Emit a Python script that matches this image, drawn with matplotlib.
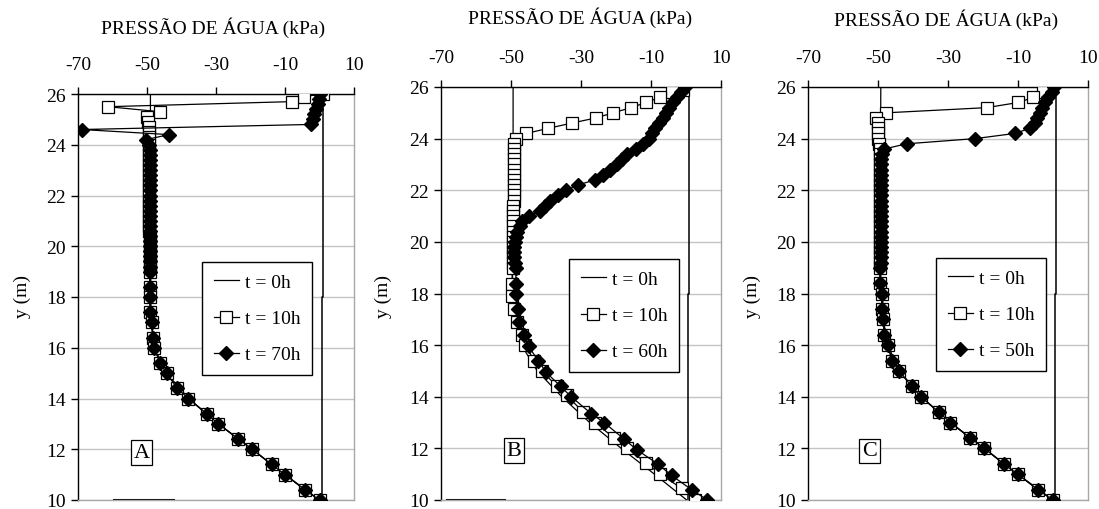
import matplotlib
matplotlib.use('Agg')
import matplotlib.pyplot as plt

plt.rcParams['font.family'] = 'Liberation Serif'
plt.rcParams['axes.unicode_minus'] = False

# node depths (m)
y_col = [24.0, 23.8, 23.6, 23.4, 23.2, 23.0, 22.8, 22.6, 22.4, 22.2, 22.0, 21.8, 21.6,
         21.4, 21.2, 21.0, 20.8, 20.6, 20.4, 20.2, 20.0, 19.8, 19.6, 19.4, 19.2, 19.0]
y_low = [18.4, 18.0, 17.4, 17.0, 16.4, 16.0, 15.4, 15.0, 14.4, 14.0, 13.4, 13.0,
         12.4, 12.0, 11.4, 11.0, 10.4, 10.0]
y_full = [26.0, 25.8, 25.6, 25.4, 25.2, 25.0, 24.8, 24.6, 24.4, 24.2] + y_col

# ---------- panel A ----------
a_t0_y = [26.0, 19.0, 18.4, 18.0, 17.0, 16.0, 15.0, 14.0, 13.0, 12.0, 11.0, 10.0]
a_t0_x = [-49.0, -49.1, -49.1, -49.1, -48.6, -47.9, -44.3, -38.0, -29.3, -19.5, -10.0, 0.0]
a_low_x = [-49.1, -49.1, -49.1, -48.6, -48.4, -47.9, -46.2, -44.3, -41.2, -38.0, -32.7, -29.3,
           -23.5, -19.5, -13.9, -10.0, -4.2, 0.0]
a_t10_y = [26.0, 25.9, 25.7, 25.5, 25.3, 25.1, 24.9, 24.7, 24.5, 24.3] + y_col + y_low
a_t10_x = [1.0, -4.4, -7.9, -61.3, -46.1, -50.1, -49.6, -49.4, -49.3, -49.3,
           -49.3, -49.3, -49.3, -49.3, -49.3, -49.3, -49.3, -49.3, -49.3, -49.3, -49.3, -49.3, -49.3,
           -49.3, -49.3, -49.3, -49.3, -49.3, -49.2, -49.2, -49.2, -49.2, -49.2, -49.2, -49.2, -49.1] + a_low_x
a_t70_y = y_full + y_low
a_t70_x = [0.0, -0.2, -0.5, -0.9, -1.5, -2.0, -2.6, -68.9, -43.6, -50.4,
           -49.3, -49.2, -49.2, -49.2, -49.2, -49.2, -49.2, -49.2, -49.2, -49.2, -49.2, -49.2, -49.2,
           -49.2, -49.2, -49.2, -49.2, -49.2, -49.2, -49.2, -49.2, -49.2, -49.2, -49.2, -49.1, -49.1] + a_low_x

# ---------- panel B ----------
b_t0_y = [26.0, 24.0, 19.0, 18.0, 17.0, 16.0, 15.0, 14.0, 13.0, 12.0, 11.0, 10.0]
b_t0_x = [-49.4, -49.4, -49.6, -49.8, -49.0, -47.0, -42.5, -35.5, -27.5, -18.5, -9.0, 0.2]
b_t10_y = [25.9, 25.8, 25.6, 25.4, 25.2, 25.0, 24.8, 24.6, 24.4, 24.2] + y_col + \
          [18.35, 17.9, 17.4, 16.9, 16.4, 16.0, 15.4, 15.0, 14.4, 14.05, 13.4, 13.0,
           12.4, 12.0, 11.45, 11.0, 10.45, 10.0]
b_t10_x = [-0.8, -4.1, -7.4, -11.4, -15.7, -20.8, -25.8, -32.7, -39.3, -45.7,
           -48.7, -49.1, -49.1, -49.1, -49.1, -49.1, -49.1, -49.1, -49.1, -49.1, -49.1, -49.1, -49.1,
           -49.5, -49.5, -49.5, -49.5, -49.5, -49.5, -49.5, -49.5, -49.5, -49.5, -49.5, -49.5, -49.5,
           -49.6, -49.6, -49.1, -48.4, -46.9, -46.0, -43.3, -41.2, -36.8, -34.1, -29.3, -26.0,
           -20.5, -17.0, -11.4, -7.4, -1.2, 2.6]
b_t60_y = y_full + [18.35, 18.0, 17.4, 16.9, 16.4, 15.95, 15.4, 14.95, 14.4, 14.0, 13.35, 13.0,
                    12.35, 11.95, 11.4, 10.95, 10.4, 10.0]
b_t60_x = [-0.3, -1.5, -2.7, -3.8, -4.9, -5.7, -6.6, -7.8, -8.8, -9.7,
           -10.7, -12.3, -14.4, -16.8, -18.4, -19.8, -21.8, -23.8, -26.0, -31.0, -34.2, -36.5, -38.8,
           -40.2, -41.7, -45.0, -46.8, -47.4, -48.2, -48.7, -49.0, -49.2, -49.2, -49.1, -48.9, -48.6,
           -48.6, -48.6, -47.9, -47.6, -46.3, -45.0, -42.2, -40.0, -35.8, -32.8, -27.1, -23.4,
           -17.6, -14.1, -8.1, -4.1, 1.6, 6.1]

# ---------- panel C ----------
c_t0_y = [26.0, 19.0, 18.4, 18.0, 17.0, 16.0, 15.0, 14.0, 13.0, 12.0, 11.0, 10.0]
c_t0_x = [-49.2, -49.4, -49.4, -48.9, -48.5, -47.2, -43.9, -37.7, -29.3, -19.6, -10.1, 0.0]
c_low_x = [-49.4, -48.9, -49.0, -48.5, -48.2, -47.2, -46.0, -43.9, -40.4, -37.7, -32.6, -29.3,
           -23.6, -19.6, -14.1, -10.1, -4.3, 0.0]
c_t10_y = [26.0, 25.8, 25.6, 25.4, 25.2, 25.0, 24.8, 24.6, 24.4, 24.2] + y_col + y_low
c_t10_x = [-0.4, -2.8, -5.6, -9.9, -19.0, -47.7, -50.6, -49.9, -49.9, -49.9,
           -49.9, -49.6, -49.4, -49.4, -49.4, -49.4, -49.4, -49.4, -49.4, -49.4, -49.4, -49.4, -49.4,
           -49.4, -49.4, -49.4, -49.4, -49.4, -49.4, -49.4, -49.4, -49.4, -49.4, -49.4, -49.4, -49.4] + c_low_x
c_t50_y = y_full + y_low
c_t50_x = [0.3, -0.4, -1.4, -2.4, -3.1, -3.8, -4.5, -5.2, -6.6, -10.9,
           -22.3, -41.8, -48.2, -49.0, -49.1, -49.1, -49.1, -49.1, -49.1, -49.1, -49.1, -49.1, -49.1,
           -49.1, -49.1, -49.1, -49.1, -49.1, -49.2, -49.2, -49.2, -49.2, -49.2, -49.2, -49.2, -49.3] + c_low_x

# right-hand vertical line and base segment
ref_y = [26.0, 18.0, 18.0, 10.0]
a_ref_x = [1.0, 1.0, 0.6, 0.6]
b_ref_x = [0.9, 0.9, 0.7, 0.7]
c_ref_x = [0.9, 0.9, 0.6, 0.6]
base_y = [10.0, 10.0]
a_base_x = [-59.5, -42.2]
b_base_x = [-68.4, -51.7]

panels = [
    dict(rect=[78, 95, 354, 501], t0=(a_t0_x, a_t0_y), t10=(a_t10_x, a_t10_y), tl=(a_t70_x, a_t70_y),
         lab='t = 70h', ref=a_ref_x, base=a_base_x, letter='A', letter_xy=(-51.6, 11.87),
         title_xy=(213, 28), ylab_xy=(22, 296), leg_xy=(202, 263)),
    dict(rect=[441, 88, 721, 501], t0=(b_t0_x, b_t0_y), t10=(b_t10_x, b_t10_y), tl=(b_t60_x, b_t60_y),
         lab='t = 60h', ref=b_ref_x, base=b_base_x, letter='B', letter_xy=(-49.2, 11.92),
         title_xy=(580, 18), ylab_xy=(383, 297), leg_xy=(569, 260)),
    dict(rect=[808, 88, 1088, 501], t0=(c_t0_x, c_t0_y), t10=(c_t10_x, c_t10_y), tl=(c_t50_x, c_t50_y),
         lab='t = 50h', ref=c_ref_x, base=None, letter='C', letter_xy=(-52.4, 11.9),
         title_xy=(946, 20), ylab_xy=(752, 296), leg_xy=(936, 259)),
]

W, H = 1099, 510
fig = plt.figure(figsize=(W / 100, H / 100), dpi=100)
fs = 14

for p in panels:
    x0, y0, x1, y1 = p['rect']
    ax = fig.add_axes([x0 / W, 1 - y1 / H, (x1 - x0) / W, (y1 - y0) / H])
    ax.set_xlim(-70, 10)
    ax.set_ylim(10, 26)
    ax.set_xticks([-70, -50, -30, -10, 10])
    ax.set_yticks(range(10, 27, 2))
    ax.xaxis.tick_top()
    ax.tick_params(axis='x', direction='out', length=5, width=1, pad=10, labelsize=fs)
    ax.tick_params(axis='y', direction='out', length=5, width=1, pad=4, labelsize=fs)
    ax.grid(axis='y', color='#c4c4c4', linewidth=1)
    ax.set_axisbelow(True)
    for s in ['left', 'top']:
        ax.spines[s].set_color('black')
        ax.spines[s].set_linewidth(1)
    for s in ['right', 'bottom']:
        ax.spines[s].set_color('#a8a8a8')
        ax.spines[s].set_linewidth(1)

    ax.plot(p['ref'], ref_y, color='black', linewidth=1.1, zorder=2)
    if p['base'] is not None:
        ax.plot(p['base'], base_y, color='black', linewidth=1.5, zorder=2)
    l0, = ax.plot(*p['t0'], color='black', linewidth=0.9, label='t = 0h', zorder=3)
    l1, = ax.plot(*p['t10'], color='black', linewidth=0.9, marker='s', markersize=8,
                  markerfacecolor='white', markeredgecolor='black', markeredgewidth=0.9,
                  label='t = 10h', zorder=4)
    l2, = ax.plot(*p['tl'], color='black', linewidth=0.9, marker='D', markersize=7,
                  markerfacecolor='black', markeredgecolor='black', label=p['lab'], zorder=5)

    leg = ax.legend(handles=[l0, l1, l2], loc='upper left',
                    bbox_to_anchor=(p['leg_xy'][0] / W, 1 - p['leg_xy'][1] / H),
                    bbox_transform=fig.transFigure, borderaxespad=0, fontsize=fs,
                    frameon=True, fancybox=False, framealpha=1, edgecolor='black',
                    handlelength=1.3, handletextpad=0.3, labelspacing=0.95, borderpad=0.6)
    leg.get_frame().set_linewidth(1)
    leg.set_zorder(10)

    ax.text(p['letter_xy'][0], p['letter_xy'][1], p['letter'], fontsize=16, ha='center', va='center',
            bbox=dict(boxstyle='square,pad=0.12', facecolor='white', edgecolor='black', linewidth=0.9),
            zorder=10)

    fig.text(p['title_xy'][0] / W, 1 - p['title_xy'][1] / H, 'PRESSÃO DE ÁGUA (kPa)',
             fontsize=fs, ha='center', va='center')
    fig.text(p['ylab_xy'][0] / W, 1 - p['ylab_xy'][1] / H, 'y (m)', fontsize=fs,
             ha='center', va='center', rotation=90)

fig.savefig('out.png', dpi=100)
